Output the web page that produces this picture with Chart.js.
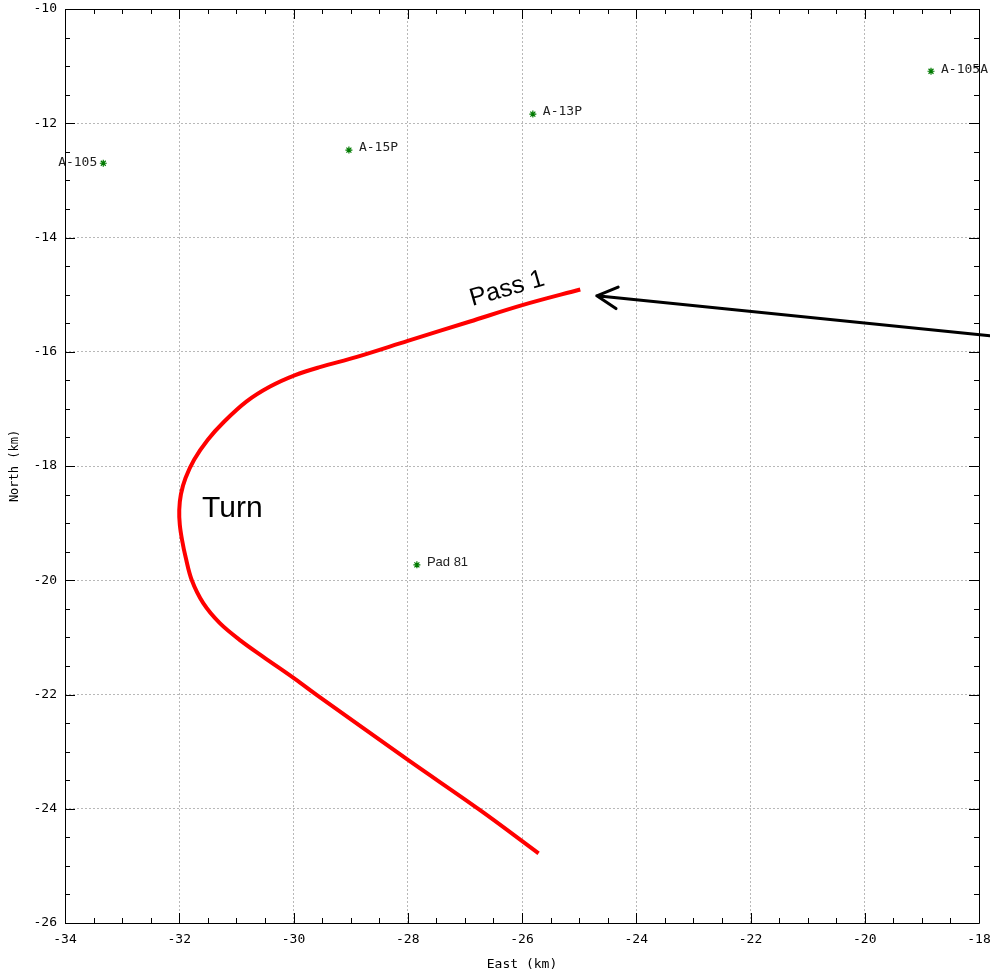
<!DOCTYPE html>
<html>
<head>
<meta charset="utf-8">
<script src="https://cdn.jsdelivr.net/npm/chart.js@4.4.1/dist/chart.umd.min.js"></script>
<style>
html,body{margin:0;padding:0;background:#fff;}
#wrap{width:990px;height:974px;position:relative;}
</style>
</head>
<body>
<div id="wrap"><canvas id="c"></canvas></div>
<script>
// ---- data ----
const trackX = [-24.98, -25.98, -26.91, -28.00, -28.89, -29.54, -29.97, -30.41, -30.82, -31.22, -31.50, -31.74, -31.89, -31.97, -32.00, -31.99, -31.95, -31.89, -31.78, -31.58, -31.29, -30.92, -30.53, -29.97, -29.59, -27.99, -26.74, -25.71];
const trackY = [-14.91, -15.18, -15.47, -15.81, -16.09, -16.27, -16.41, -16.61, -16.87, -17.23, -17.54, -17.89, -18.21, -18.49, -18.77, -19.03, -19.30, -19.59, -20.00, -20.40, -20.75, -21.06, -21.34, -21.73, -22.01, -23.15, -24.02, -24.78];
const siteNames = ["A-105", "A-15P", "A-13P", "A-105A", "Pad 81"];
const siteX = [-33.33, -29.03, -25.81, -18.84, -27.84];
const siteY = [-12.70, -12.47, -11.84, -11.09, -19.73];
const siteLabelSide = ["left", "right", "right", "right", "right"];
const xTickMin = -34, xTickMax = -18, yTickMin = -26, yTickMax = -10;
const majorStep = 2, minorStep = 0.5;
const annotations = [
  {text: "Pass 1", x: -26.26, y: -14.90, rot: -16, size: 25},
  {text: "Turn", x: -31.07, y: -18.74, rot: 0, size: 30}
];
const arrowFrom = {x: -17.81, y: -15.72};
const arrowTo = {x: -24.69, y: -15.02};

const monoFont = "'DejaVu Sans Mono', monospace";

const framePlugin = {
  id: 'frame',
  afterDatasetsDraw(chart) {
    const ctx = chart.ctx;
    const meta = chart.getDatasetMeta(1);
    ctx.save();
    ctx.fillStyle = '#222';
    ctx.textBaseline = 'middle';
    meta.data.forEach((pt, i) => {
      const name = siteNames[i];
      if (name === 'Pad 81') ctx.font = "13px 'Liberation Sans', Arial, sans-serif";
      else ctx.font = "13px " + monoFont;
      if (siteLabelSide[i] === 'left') {
        ctx.textAlign = 'right';
        ctx.fillText(name, pt.x - 6, pt.y - 1);
      } else {
        ctx.textAlign = 'left';
        ctx.fillText(name, pt.x + 10, pt.y - 2);
      }
    });
    const xs = chart.scales.x, ys = chart.scales.y;
    ctx.fillStyle = '#000';
    annotations.forEach(a => {
      ctx.save();
      ctx.translate(xs.getPixelForValue(a.x), ys.getPixelForValue(a.y));
      ctx.rotate(a.rot * Math.PI / 180);
      ctx.font = a.size + "px 'Liberation Sans', Arial, sans-serif";
      ctx.textAlign = 'center';
      ctx.textBaseline = 'middle';
      ctx.fillText(a.text, 0, 0);
      ctx.restore();
    });
    ctx.restore();
  },
  afterDraw(chart) {
    const ctx = chart.ctx;
    const {left, right, top, bottom} = chart.chartArea;
    const xs = chart.scales.x, ys = chart.scales.y;
    ctx.save();
    ctx.strokeStyle = '#000';
    ctx.lineWidth = 1;
    ctx.beginPath();
    ctx.rect(Math.round(left) + 0.5, Math.round(top) + 0.5, Math.round(right - left), Math.round(bottom - top));
    ctx.stroke();
    ctx.beginPath();
    for (let v = xTickMin; v <= xTickMax + 1e-9; v += minorStep) {
      const major = Math.abs(v / majorStep - Math.round(v / majorStep)) < 1e-6;
      const len = major ? 10 : 5;
      const px = Math.round(xs.getPixelForValue(v)) + 0.5;
      ctx.moveTo(px, bottom); ctx.lineTo(px, bottom - len);
      ctx.moveTo(px, top); ctx.lineTo(px, top + len);
    }
    for (let v = yTickMin; v <= yTickMax + 1e-9; v += minorStep) {
      const major = Math.abs(v / majorStep - Math.round(v / majorStep)) < 1e-6;
      const len = major ? 10 : 5;
      const py = Math.round(ys.getPixelForValue(v)) + 0.5;
      ctx.moveTo(left, py); ctx.lineTo(left + len, py);
      ctx.moveTo(right, py); ctx.lineTo(right - len, py);
    }
    ctx.stroke();
    const x1 = xs.getPixelForValue(arrowFrom.x), y1 = ys.getPixelForValue(arrowFrom.y);
    const x2 = xs.getPixelForValue(arrowTo.x), y2 = ys.getPixelForValue(arrowTo.y);
    ctx.lineWidth = 3;
    ctx.lineCap = 'round';
    ctx.lineJoin = 'round';
    ctx.beginPath();
    ctx.moveTo(x1, y1); ctx.lineTo(x2, y2);
    const ang = Math.atan2(y1 - y2, x1 - x2);
    const hl = 23, ha = 28 * Math.PI / 180;
    ctx.moveTo(x2 + hl * Math.cos(ang + ha), y2 + hl * Math.sin(ang + ha));
    ctx.lineTo(x2, y2);
    ctx.lineTo(x2 + hl * Math.cos(ang - ha), y2 + hl * Math.sin(ang - ha));
    ctx.stroke();
    ctx.restore();
  }
};

function zeroPad(s) { s.paddingLeft = 0; s.paddingRight = 0; s.paddingTop = 0; s.paddingBottom = 0; }

new Chart(document.getElementById('c'), {
  type: 'scatter',
  data: {
    datasets: [
      {
        label: 'track',
        data: trackX.map((x, i) => ({x: x, y: trackY[i]})),
        showLine: true,
        borderColor: '#ff0000',
        borderWidth: 4,
        pointRadius: 0,
        tension: 0.35,
        fill: false
      },
      {
        label: 'sites',
        data: siteX.map((x, i) => ({x: x, y: siteY[i]})),
        pointStyle: 'star',
        pointRadius: 3.5,
        borderColor: '#007a00',
        backgroundColor: '#007a00',
        borderWidth: 1.2,
        showLine: false
      }
    ]
  },
  options: {
    responsive: true,
    maintainAspectRatio: false,
    devicePixelRatio: 1,
    animation: false,
    layout: {padding: {top: 9, right: 11, left: 0, bottom: 0}},
    plugins: {legend: {display: false}, tooltip: {enabled: false}},
    scales: {
      x: {
        type: 'linear', min: xTickMin, max: xTickMax,
        ticks: {stepSize: majorStep, padding: 9, color: '#000', font: {family: monoFont, size: 13}},
        grid: {drawTicks: false, color: '#b8b8b8', lineWidth: 1},
        border: {display: false, dash: [2, 2]},
        title: {display: true, text: 'East (km)', color: '#000', font: {family: monoFont, size: 13}, padding: {top: 0, bottom: 2}},
        afterFit(s) { s.height = 51; zeroPad(s); }
      },
      y: {
        type: 'linear', min: yTickMin, max: yTickMax,
        ticks: {stepSize: majorStep, padding: 8, color: '#000', font: {family: monoFont, size: 13}},
        grid: {drawTicks: false, color: '#b8b8b8', lineWidth: 1},
        border: {display: false, dash: [2, 2]},
        title: {display: true, text: 'North (km)', color: '#000', font: {family: monoFont, size: 12}, padding: {top: 8, bottom: 0}},
        afterFit(s) { s.width = 65; zeroPad(s); }
      }
    }
  },
  plugins: [framePlugin]
});
</script>
</body>
</html>
